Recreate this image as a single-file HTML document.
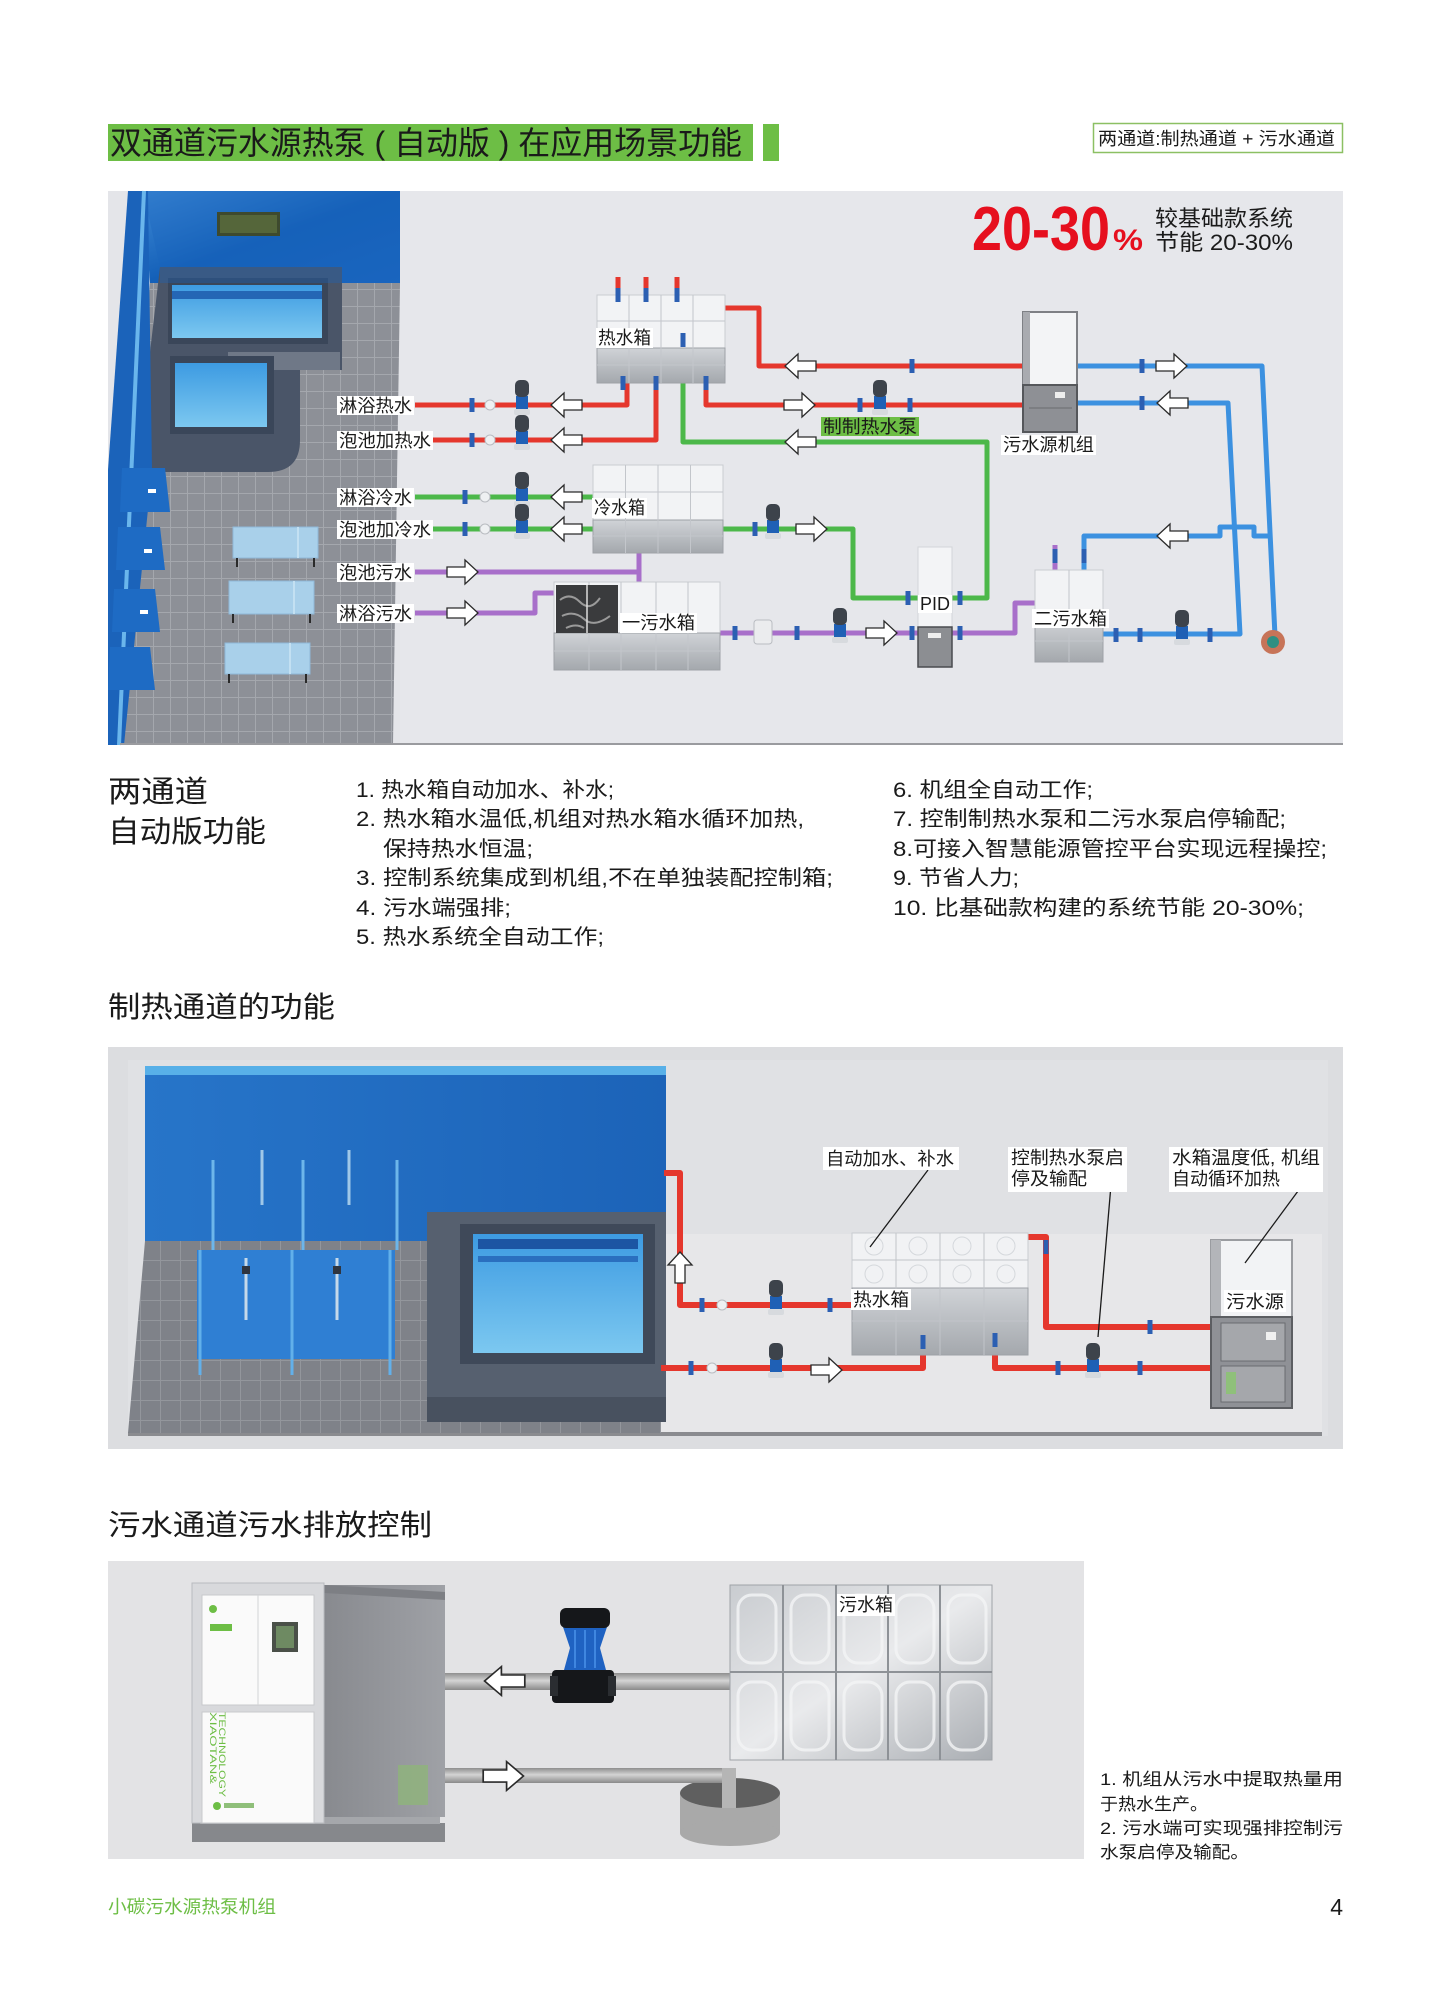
<!DOCTYPE html>
<html><head><meta charset="utf-8">
<style>
html,body{margin:0;padding:0;background:#fff;}
svg{display:block;}
text{font-family:"Liberation Sans","Noto Sans CJK SC",sans-serif;fill:#1a1a1a;}
</style></head><body>
<svg width="1440" height="1996" viewBox="0 0 1440 1996" xmlns="http://www.w3.org/2000/svg">
<defs>
 <g id="ar"><polygon points="-16,-5 2,-5 2,-12 15,0 2,12 2,5 -16,5" fill="#fff" stroke="#2a2a2a" stroke-width="1.3"/></g>
 <g id="pump"><rect x="-6" y="-9" width="12" height="15" fill="#1f60b5"/><rect x="-7" y="-25" width="14" height="17" rx="5" fill="#3d434b"/><rect x="-8" y="4" width="16" height="6" rx="2" fill="#d7dade"/></g>
 <g id="vl"><rect x="-2.5" y="-7" width="5" height="14" fill="#2c5fb2"/></g>
 <g id="ball"><circle r="5" fill="#eef0f2" stroke="#b9bcc1" stroke-width="1"/></g>
 <pattern id="tile" width="17" height="17" patternUnits="userSpaceOnUse"><rect width="17" height="17" fill="#8d9097"/><path d="M0 0.5H17M0.5 0V17" stroke="#a4a7ad" stroke-width="1"/></pattern>
 <pattern id="tile2" width="20" height="20" patternUnits="userSpaceOnUse"><rect width="20" height="20" fill="#7f8289"/><path d="M0 0.5H20M0.5 0V20" stroke="#93969c" stroke-width="1"/></pattern>
 <linearGradient id="wall" x1="0" y1="0" x2="1" y2="1"><stop offset="0" stop-color="#3f8ad6"/><stop offset="0.5" stop-color="#1460b8"/><stop offset="1" stop-color="#1a66c0"/></linearGradient>
 <linearGradient id="water" x1="0" y1="0" x2="0" y2="1"><stop offset="0" stop-color="#3d9be2"/><stop offset="1" stop-color="#7cc8f0"/></linearGradient>
 <linearGradient id="steel" x1="0" y1="0" x2="0" y2="1"><stop offset="0" stop-color="#d0d3d7"/><stop offset="1" stop-color="#a4a8ad"/></linearGradient>
 <linearGradient id="pipeg" x1="0" y1="0" x2="0" y2="1"><stop offset="0" stop-color="#8e8e8e"/><stop offset="0.45" stop-color="#d4d4d4"/><stop offset="1" stop-color="#8a8a8a"/></linearGradient>
 <linearGradient id="side" x1="0" y1="0" x2="1" y2="0"><stop offset="0" stop-color="#888a8f"/><stop offset="1" stop-color="#9fa1a6"/></linearGradient>
 <linearGradient id="ss" x1="0" y1="0" x2="1" y2="1"><stop offset="0" stop-color="#c9ccd0"/><stop offset="0.5" stop-color="#e9eaec"/><stop offset="1" stop-color="#a9adb2"/></linearGradient>
 <linearGradient id="wall2" x1="0" y1="0" x2="1" y2="0"><stop offset="0" stop-color="#2775c9"/><stop offset="1" stop-color="#1c63b8"/></linearGradient>
</defs>

<!-- ===== HEADER ===== -->
<rect x="108" y="124" width="645" height="37" fill="#6dbe45"/>
<rect x="763" y="124" width="16" height="37" fill="#6dbe45"/>
<text x="110" y="154" font-size="32" textLength="632" lengthAdjust="spacingAndGlyphs">双通道污水源热泵 ( 自动版 ) 在应用场景功能</text>
<rect x="1093.5" y="123.5" width="249" height="29" fill="#fff" stroke="#8cc063" stroke-width="1.5"/>
<text x="1098" y="145" font-size="18" textLength="237" lengthAdjust="spacingAndGlyphs">两通道:制热通道 + 污水通道</text>

<!-- ===== DIAGRAM 1 ===== -->
<rect x="108" y="191" width="1235" height="554" fill="#e4e5e9"/>
<rect x="400" y="191" width="943" height="554" fill="#e6e7eb"/>
<!-- floor -->
<polygon points="150,283 400,283 393,745 120,745" fill="url(#tile)"/>
<!-- back wall -->
<polygon points="143,191 400,191 400,283 150,283" fill="url(#wall)"/>
<!-- pools -->
<path d="M160 267 H342 V370 H300 V440 Q300 472 268 472 H150 V352 Z" fill="#4a5568"/>
<rect x="168" y="278" width="160" height="66" fill="#3a4659"/>
<rect x="172" y="285" width="150" height="53" fill="url(#water)"/>
<rect x="172" y="291" width="150" height="8" fill="#2466b5"/>
<rect x="228" y="352" width="112" height="18" fill="#6f7887"/>
<rect x="170" y="356" width="104" height="78" fill="#3a4659"/>
<rect x="175" y="363" width="92" height="64" fill="url(#water)"/>
<polygon points="143,191 400,191 400,283 160,283 160,267" fill="#1a64bd" opacity="0.35"/>
<!-- left wall -->
<polygon points="128,191 148,191 152,470 124,745 108,745 108,470" fill="#1b63ba"/>
<line x1="144" y1="191" x2="119" y2="745" stroke="#6ab6ec" stroke-width="4"/>
<!-- TV -->
<rect x="217" y="212" width="63" height="24" fill="#3e4a2e"/>
<rect x="220" y="215" width="57" height="18" fill="#55663a"/>
<!-- shower stalls -->
<polygon points="122,468 165,468 170,512 120,512" fill="#1e6bc4"/>
<polygon points="118,527 160,527 165,570 116,570" fill="#1e6bc4"/>
<polygon points="114,589 155,589 160,632 112,632" fill="#1e6bc4"/>
<polygon points="110,647 150,647 155,690 108,690" fill="#1e6bc4"/>
<rect x="148" y="489" width="8" height="4" fill="#fff"/><rect x="144" y="549" width="8" height="4" fill="#fff"/><rect x="140" y="610" width="8" height="4" fill="#fff"/>
<!-- lounge chairs -->
<rect x="233" y="527" width="85" height="31" fill="#a9d0ea" stroke="#8fb9d8"/>
<rect x="229" y="581" width="85" height="33" fill="#a9d0ea" stroke="#8fb9d8"/>
<rect x="225" y="643" width="85" height="31" fill="#a9d0ea" stroke="#8fb9d8"/>
<path d="M237 558v9M314 558v9M233 614v9M310 614v9M229 674v9M306 674v9" stroke="#2a2a2a" stroke-width="2"/>
<path d="M298 527v31M294 581v33M290 643v31" stroke="#c3e0f2" stroke-width="2"/>

<!-- red 20-30% -->
<text x="972" y="250" font-size="62" font-weight="bold" style="fill:#e60f1e" textLength="138" lengthAdjust="spacingAndGlyphs">20-30</text>
<text x="1113" y="250" font-size="30" font-weight="bold" style="fill:#e60f1e" textLength="30" lengthAdjust="spacingAndGlyphs">%</text>
<text x="1155" y="226" font-size="22" textLength="138" lengthAdjust="spacingAndGlyphs">较基础款系统</text>
<text x="1155" y="250" font-size="22" textLength="138" lengthAdjust="spacingAndGlyphs">节能 20-30%</text>

<!-- pipes -->
<g fill="none" stroke-linejoin="round" stroke-linecap="butt" stroke-width="5">
 <path d="M415 405H627V383" stroke="#e5372d"/>
 <path d="M432 440H656V383" stroke="#e5372d"/>
 <path d="M725 308H759V366H1023" stroke="#e5372d"/>
 <path d="M706 383V405H1023" stroke="#e5372d"/>
 <path d="M618 277V300M646 277V300M677 277V300" stroke="#e5372d"/>
 <path d="M683 340V442H987V598H952" stroke="#4cb84a"/>
 <path d="M415 497H593" stroke="#4cb84a"/>
 <path d="M432 529H593" stroke="#4cb84a"/>
 <path d="M723 529H853V598H918" stroke="#4cb84a"/>
 <path d="M415 572H639V540" stroke="#a86fca"/>
 <path d="M639 572V588" stroke="#a86fca"/>
 <path d="M415 613H535V593H556" stroke="#a86fca"/>
 <path d="M720 633H918" stroke="#a86fca"/>
 <path d="M952 633H1015V603H1042" stroke="#a86fca"/>
 <path d="M1055 545V575" stroke="#a86fca"/>
 <path d="M1077 366H1262L1275 636" stroke="#3c91e0"/>
 <path d="M1077 403H1228L1240 634H1103" stroke="#3c91e0"/>
 <path d="M1084 575V536H1220V527H1254V536H1270" stroke="#3c91e0"/>
</g>

<!-- tanks -->
<rect x="597" y="295" width="128" height="53" fill="#f2f3f5" stroke="#c9ccd1"/>
<rect x="597" y="348" width="128" height="35" fill="url(#steel)" stroke="#9ea2a7"/>
<path d="M629 295V383M661 295V383M693 295V383M597 321H725M597 365H725" stroke="#c3c6cb" stroke-width="1"/>
<rect x="593" y="465" width="130" height="55" fill="#f2f3f5" stroke="#c9ccd1"/>
<rect x="593" y="520" width="130" height="33" fill="url(#steel)" stroke="#9ea2a7"/>
<path d="M625.5 465V553M658 465V553M690.5 465V553M593 492H723M593 536H723" stroke="#c3c6cb" stroke-width="1"/>
<rect x="554" y="582" width="166" height="51" fill="#f2f3f5" stroke="#c9ccd1"/>
<rect x="554" y="633" width="166" height="37" fill="url(#steel)" stroke="#9ea2a7"/>
<path d="M589 582V670M621 582V670M656 582V670M688 582V670M554 651H720" stroke="#c3c6cb" stroke-width="1"/>
<rect x="556" y="585" width="62" height="48" fill="#3a3b3d"/>
<path d="M560 600q10 -8 20 2t20 -4M562 616q12 -6 22 3t26 -3M566 628q10 -5 18 0" stroke="#9a9a9a" stroke-width="2" fill="none"/>
<line x1="587" y1="585" x2="587" y2="633" stroke="#ddd" stroke-width="1.5"/>
<rect x="1035" y="570" width="68" height="50" fill="#f2f3f5" stroke="#c9ccd1"/>
<rect x="1035" y="620" width="68" height="42" fill="url(#steel)" stroke="#9ea2a7"/>
<path d="M1069 570V662M1035 641H1103" stroke="#c3c6cb" stroke-width="1"/>
<rect x="918" y="547" width="34" height="80" fill="#f3f4f6" stroke="#d3d5d9"/>
<rect x="918" y="627" width="34" height="40" fill="#8c8e92" stroke="#4a4c50" stroke-width="1.5"/>
<rect x="928" y="633" width="13" height="5" fill="#eee"/>
<rect x="1023" y="312" width="54" height="73" fill="#f3f4f6" stroke="#7e8085" stroke-width="2"/>
<rect x="1023" y="312" width="7" height="73" fill="#a9abb0"/>
<rect x="1023" y="385" width="54" height="47" fill="#8e9095" stroke="#55575b" stroke-width="2"/>
<path d="M1029 408H1072" stroke="#6a6c70"/>
<rect x="1055" y="392" width="10" height="6" fill="#eee"/>
<circle cx="1273" cy="642" r="12" fill="#c77458"/>
<circle cx="1273" cy="642" r="6" fill="#2f8f82"/>

<!-- valves/pumps/fittings -->
<use href="#vl" x="472" y="405"/><use href="#vl" x="472" y="440"/><use href="#vl" x="465" y="497"/><use href="#vl" x="465" y="529"/>
<use href="#ball" x="490" y="405"/><use href="#ball" x="490" y="440"/><use href="#ball" x="485" y="497"/><use href="#ball" x="485" y="529"/>
<use href="#pump" x="522" y="405"/><use href="#pump" x="522" y="440"/><use href="#pump" x="522" y="497"/><use href="#pump" x="522" y="529"/>
<use href="#vl" x="860" y="405"/><use href="#vl" x="910" y="405"/><use href="#pump" x="880" y="405"/>
<use href="#vl" x="912" y="366"/>
<use href="#vl" x="755" y="529"/><use href="#pump" x="773" y="529"/>
<use href="#vl" x="735" y="633"/><use href="#vl" x="912" y="633"/><use href="#vl" x="960" y="633"/><use href="#vl" x="908" y="598"/><use href="#vl" x="960" y="598"/>
<rect x="754" y="620" width="18" height="24" rx="3" fill="#ebecee" stroke="#b9bcc1"/>
<use href="#vl" x="797" y="633"/><use href="#pump" x="840" y="633"/>
<use href="#vl" x="1116" y="635"/><use href="#vl" x="1140" y="635"/><use href="#pump" x="1182" y="635"/><use href="#vl" x="1210" y="635"/>
<use href="#vl" x="1142" y="366"/><use href="#vl" x="1142" y="403"/>
<use href="#vl" x="618" y="295"/><use href="#vl" x="646" y="295"/><use href="#vl" x="677" y="295"/>
<use href="#vl" x="623" y="383"/><use href="#vl" x="656" y="383"/><use href="#vl" x="706" y="383"/><use href="#vl" x="683" y="340"/>
<use href="#vl" x="1055" y="556"/><use href="#vl" x="1084" y="556"/>

<!-- arrows -->
<use href="#ar" transform="translate(566,405) scale(-1,1)"/>
<use href="#ar" transform="translate(566,440) scale(-1,1)"/>
<use href="#ar" transform="translate(566,497) scale(-1,1)"/>
<use href="#ar" transform="translate(566,529) scale(-1,1)"/>
<use href="#ar" transform="translate(800,366) scale(-1,1)"/>
<use href="#ar" transform="translate(800,442) scale(-1,1)"/>
<use href="#ar" transform="translate(1172,403) scale(-1,1)"/>
<use href="#ar" transform="translate(1172,536) scale(-1,1)"/>
<use href="#ar" transform="translate(800,405)"/>
<use href="#ar" transform="translate(463,572)"/>
<use href="#ar" transform="translate(463,613)"/>
<use href="#ar" transform="translate(812,529)"/>
<use href="#ar" transform="translate(882,633)"/>
<use href="#ar" transform="translate(1172,366)"/>

<!-- labels d1 -->
<g fill="#fff">
<rect x="337" y="396" width="77" height="19"/><rect x="337" y="431" width="96" height="19"/>
<rect x="337" y="488" width="77" height="19"/><rect x="337" y="520" width="96" height="19"/>
<rect x="337" y="563" width="77" height="19"/><rect x="337" y="604" width="77" height="19"/>
<rect x="596" y="328" width="57" height="20"/><rect x="592" y="498" width="55" height="20"/>
<rect x="620" y="613" width="77" height="20"/><rect x="918" y="595" width="34" height="18"/>
<rect x="1032" y="609" width="77" height="19"/><rect x="1001" y="435" width="95" height="20"/>
</g>
<rect x="821" y="417" width="98" height="19" fill="#6dbe45"/>
<g font-size="18">
<text x="339" y="412" textLength="73" lengthAdjust="spacingAndGlyphs">淋浴热水</text>
<text x="339" y="447" textLength="92" lengthAdjust="spacingAndGlyphs">泡池加热水</text>
<text x="339" y="504" textLength="73" lengthAdjust="spacingAndGlyphs">淋浴冷水</text>
<text x="339" y="536" textLength="92" lengthAdjust="spacingAndGlyphs">泡池加冷水</text>
<text x="339" y="579" textLength="73" lengthAdjust="spacingAndGlyphs">泡池污水</text>
<text x="339" y="620" textLength="73" lengthAdjust="spacingAndGlyphs">淋浴污水</text>
<text x="598" y="344" textLength="53" lengthAdjust="spacingAndGlyphs">热水箱</text>
<text x="594" y="514" textLength="51" lengthAdjust="spacingAndGlyphs">冷水箱</text>
<text x="622" y="629" textLength="73" lengthAdjust="spacingAndGlyphs">一污水箱</text>
<text x="920" y="610" textLength="30" lengthAdjust="spacingAndGlyphs">PID</text>
<text x="1034" y="625" textLength="73" lengthAdjust="spacingAndGlyphs">二污水箱</text>
<text x="1003" y="451" textLength="91" lengthAdjust="spacingAndGlyphs">污水源机组</text>
<text x="823" y="433" textLength="94" lengthAdjust="spacingAndGlyphs">制制热水泵</text>
</g>
<rect x="120" y="743" width="1223" height="2" fill="#9a9b9f"/>

<!-- ===== TEXT BLOCK ===== -->
<text x="108" y="802" font-size="30" textLength="100" lengthAdjust="spacingAndGlyphs">两通道</text>
<text x="108" y="842" font-size="30" textLength="158" lengthAdjust="spacingAndGlyphs">自动版功能</text>
<g font-size="21">
<text x="356" y="797" textLength="258" lengthAdjust="spacingAndGlyphs">1. 热水箱自动加水、补水;</text>
<text x="356" y="826" textLength="448" lengthAdjust="spacingAndGlyphs">2. 热水箱水温低,机组对热水箱水循环加热,</text>
<text x="383" y="856" textLength="150" lengthAdjust="spacingAndGlyphs">保持热水恒温;</text>
<text x="356" y="885" textLength="477" lengthAdjust="spacingAndGlyphs">3. 控制系统集成到机组,不在单独装配控制箱;</text>
<text x="356" y="915" textLength="155" lengthAdjust="spacingAndGlyphs">4. 污水端强排;</text>
<text x="356" y="944" textLength="248" lengthAdjust="spacingAndGlyphs">5. 热水系统全自动工作;</text>
<text x="893" y="797" textLength="200" lengthAdjust="spacingAndGlyphs">6. 机组全自动工作;</text>
<text x="893" y="826" textLength="393" lengthAdjust="spacingAndGlyphs">7. 控制制热水泵和二污水泵启停输配;</text>
<text x="893" y="856" textLength="434" lengthAdjust="spacingAndGlyphs">8.可接入智慧能源管控平台实现远程操控;</text>
<text x="893" y="885" textLength="126" lengthAdjust="spacingAndGlyphs">9. 节省人力;</text>
<text x="893" y="915" textLength="411" lengthAdjust="spacingAndGlyphs">10. 比基础款构建的系统节能 20-30%;</text>
</g>
<text x="108" y="1017" font-size="29" textLength="227" lengthAdjust="spacingAndGlyphs">制热通道的功能</text>

<!-- ===== DIAGRAM 2 ===== -->
<rect x="108" y="1047" width="1235" height="402" fill="#dcdde0"/>
<rect x="128" y="1060" width="1200" height="376" fill="#e0e1e4"/>
<rect x="661" y="1234" width="661" height="200" fill="#e7e7e9"/>
<rect x="128" y="1432" width="1194" height="4" fill="#8a8b8f"/>
<rect x="145" y="1066" width="521" height="175" fill="url(#wall2)"/>
<rect x="145" y="1066" width="521" height="9" fill="#58b0e8"/>
<polygon points="145,1241 661,1241 661,1433 128,1433" fill="url(#tile2)"/>
<path d="M213 1160V1250M303 1160V1250M397 1160V1250" stroke="#6db6ea" stroke-width="3"/>
<path d="M262 1150V1205M349 1150V1205" stroke="#9fc8e8" stroke-width="3"/>
<rect x="197" y="1250" width="198" height="109" fill="#2f7fd3"/>
<path d="M200 1250V1375M292 1250V1375M390 1250V1375" stroke="#62b0ea" stroke-width="3"/>
<path d="M246 1258V1320M337 1258V1320" stroke="#c5d9ea" stroke-width="3"/>
<rect x="242" y="1266" width="8" height="8" fill="#2e3540"/><rect x="333" y="1266" width="8" height="8" fill="#2e3540"/>
<!-- pool -->
<rect x="427" y="1395" width="239" height="27" fill="#48515f"/>
<rect x="427" y="1212" width="239" height="185" fill="#56606f"/>
<rect x="460" y="1224" width="195" height="140" fill="#3f4959"/>
<rect x="473" y="1234" width="170" height="119" fill="url(#water)"/>
<rect x="478" y="1239" width="160" height="10" fill="#1c55a3"/>
<rect x="478" y="1256" width="160" height="6" fill="#2a6fbf"/>
<g fill="none" stroke="#e5372d" stroke-width="6" stroke-linejoin="round">
 <path d="M664 1173H680V1305H852"/>
 <path d="M661 1368H923V1340"/>
 <path d="M997 1252V1237H1046V1327H1211"/>
 <path d="M995 1338V1368H1211"/>
</g>
<rect x="852" y="1233" width="176" height="55" fill="#f1f2f4" stroke="#c9ccd1"/>
<rect x="852" y="1288" width="176" height="67" fill="url(#steel)" stroke="#9ea2a7"/>
<path d="M896 1233V1355M940 1233V1355M984 1233V1355M852 1260H1028M852 1321H1028" stroke="#c1c4c9" stroke-width="1"/>
<g fill="none" stroke="#d5d8dc"><circle cx="874" cy="1246" r="9"/><circle cx="918" cy="1246" r="9"/><circle cx="962" cy="1246" r="9"/><circle cx="1006" cy="1246" r="9"/><circle cx="874" cy="1274" r="9"/><circle cx="918" cy="1274" r="9"/><circle cx="962" cy="1274" r="9"/><circle cx="1006" cy="1274" r="9"/></g>
<rect x="1211" y="1240" width="81" height="77" fill="#f2f3f5" stroke="#9a9ca0" stroke-width="2"/>
<rect x="1211" y="1240" width="10" height="167" fill="#b3b5b9"/>
<rect x="1211" y="1317" width="81" height="91" fill="#8f9196" stroke="#5c5e62" stroke-width="2"/>
<rect x="1221" y="1323" width="64" height="38" fill="#a5a7ab" stroke="#6a6c70"/>
<rect x="1221" y="1366" width="64" height="36" fill="#a5a7ab" stroke="#6a6c70"/>
<rect x="1266" y="1332" width="10" height="8" fill="#f0f0f0"/>
<rect x="1226" y="1372" width="10" height="22" fill="#8fc07a"/>
<use href="#vl" x="702" y="1305"/><use href="#vl" x="830" y="1305"/><use href="#ball" x="722" y="1305"/>
<use href="#pump" x="776" y="1305"/>
<use href="#vl" x="691" y="1368"/><use href="#ball" x="712" y="1368"/>
<use href="#pump" x="776" y="1368"/>
<use href="#vl" x="1046" y="1247"/><use href="#vl" x="1150" y="1327"/>
<use href="#vl" x="1058" y="1368"/><use href="#vl" x="1140" y="1368"/>
<use href="#pump" x="1093" y="1368"/>
<use href="#vl" x="923" y="1342"/><use href="#vl" x="995" y="1340"/>
<use href="#ar" transform="translate(680,1267) rotate(-90)"/>
<use href="#ar" transform="translate(827,1370)"/>
<g stroke="#1a1a1a" stroke-width="1.3"><line x1="928" y1="1170" x2="870" y2="1247"/><line x1="1111" y1="1185" x2="1098" y2="1337"/><line x1="1301" y1="1187" x2="1245" y2="1263"/></g>
<g fill="#fff"><rect x="823" y="1147" width="136" height="23"/><rect x="1008" y="1147" width="119" height="45"/><rect x="1169" y="1147" width="154" height="45"/>
<rect x="851" y="1289" width="60" height="21"/><rect x="1224" y="1290" width="62" height="22"/></g>
<g font-size="18">
<text x="826" y="1165" textLength="128" lengthAdjust="spacingAndGlyphs">自动加水、补水</text>
<text x="1011" y="1164" textLength="113" lengthAdjust="spacingAndGlyphs">控制热水泵启</text>
<text x="1011" y="1185" textLength="76" lengthAdjust="spacingAndGlyphs">停及输配</text>
<text x="1172" y="1164" textLength="148" lengthAdjust="spacingAndGlyphs">水箱温度低, 机组</text>
<text x="1172" y="1185" textLength="108" lengthAdjust="spacingAndGlyphs">自动循环加热</text>
<text x="853" y="1306" textLength="56" lengthAdjust="spacingAndGlyphs">热水箱</text>
<text x="1226" y="1308" textLength="58" lengthAdjust="spacingAndGlyphs">污水源</text>
</g>

<text x="108" y="1535" font-size="29" textLength="324" lengthAdjust="spacingAndGlyphs">污水通道污水排放控制</text>

<!-- ===== DIAGRAM 3 ===== -->
<rect x="108" y="1561" width="976" height="298" fill="#e3e3e5"/>
<rect x="192" y="1823" width="253" height="19" fill="#86888c"/>
<rect x="200" y="1816" width="240" height="8" fill="#a5a7ab"/>
<rect x="324" y="1585" width="121" height="232" fill="url(#side)"/>
<polygon points="324,1585 445,1592 445,1600 324,1593" fill="#7d7f84"/>
<rect x="192" y="1583" width="132" height="240" fill="#d8d9dc" stroke="#b9bbbf"/>
<rect x="202" y="1595" width="112" height="110" fill="#fafafa" stroke="#c8c9cc"/>
<rect x="202" y="1712" width="112" height="111" fill="#fafafa" stroke="#c8c9cc"/>
<line x1="258" y1="1595" x2="258" y2="1705" stroke="#d3d4d7"/>
<rect x="272" y="1622" width="26" height="30" fill="#4a5048"/>
<rect x="276" y="1626" width="18" height="22" fill="#6e8a62"/>
<circle cx="213" cy="1609" r="4" fill="#6dbe45"/>
<rect x="210" y="1624" width="22" height="7" fill="#6dbe45"/>
<circle cx="217" cy="1806" r="4" fill="#6dbe45"/>
<rect x="224" y="1803" width="30" height="5" fill="#8fbf7a"/>
<rect x="398" y="1765" width="30" height="40" fill="#8fb47a" opacity="0.8"/>
<text transform="translate(210,1712) rotate(90)" font-size="9" style="fill:#6dbe45" textLength="72" lengthAdjust="spacingAndGlyphs">XIAOTAN&amp;</text>
<text transform="translate(219,1712) rotate(90)" font-size="9" style="fill:#6dbe45" textLength="85" lengthAdjust="spacingAndGlyphs">TECHNOLOGY</text>
<rect x="445" y="1673" width="288" height="17" fill="url(#pipeg)"/>
<rect x="552" y="1670" width="62" height="33" rx="4" fill="#15171a"/>
<rect x="550" y="1676" width="8" height="20" fill="#2a2d31"/><rect x="608" y="1676" width="8" height="20" fill="#2a2d31"/>
<path d="M563 1627H607L600 1648L606 1670H564L570 1648Z" fill="#1f62c2"/>
<path d="M575 1630V1668M585 1630V1668M595 1630V1668" stroke="#3f86e0" stroke-width="2"/>
<rect x="560" y="1608" width="50" height="20" rx="6" fill="#15171a"/>
<use href="#ar" transform="translate(504,1681) scale(-1.3,1.2)"/>
<rect x="730" y="1585" width="262" height="175" fill="url(#ss)" stroke="#9fa3a8"/>
<path d="M783 1585V1760M836 1585V1760M888 1585V1760M940 1585V1760M730 1672H992" stroke="#8e9297" stroke-width="2"/>
<g fill="none" stroke="#f4f5f6" stroke-width="3" opacity="0.8">
<rect x="738" y="1595" width="38" height="68" rx="14"/><rect x="791" y="1595" width="38" height="68" rx="14"/><rect x="844" y="1595" width="38" height="68" rx="14"/><rect x="896" y="1595" width="38" height="68" rx="14"/><rect x="948" y="1595" width="38" height="68" rx="14"/>
<rect x="738" y="1682" width="38" height="68" rx="14"/><rect x="791" y="1682" width="38" height="68" rx="14"/><rect x="844" y="1682" width="38" height="68" rx="14"/><rect x="896" y="1682" width="38" height="68" rx="14"/><rect x="948" y="1682" width="38" height="68" rx="14"/>
</g>
<rect x="837" y="1594" width="58" height="22" fill="#fff"/>
<text x="839" y="1611" font-size="18" textLength="54" lengthAdjust="spacingAndGlyphs">污水箱</text>
<rect x="680" y="1793" width="100" height="40" fill="#a9a9a9"/>
<ellipse cx="730" cy="1833" rx="50" ry="13" fill="#a9a9a9"/>
<ellipse cx="730" cy="1793" rx="50" ry="15" fill="#5f5f5f"/>
<rect x="445" y="1768" width="291" height="15" fill="url(#pipeg)"/>
<rect x="722" y="1768" width="14" height="40" fill="#b5b5b5"/>
<use href="#ar" transform="translate(504,1776) scale(1.3,1.2)"/>

<g font-size="17">
<text x="1100" y="1785" textLength="243" lengthAdjust="spacingAndGlyphs">1. 机组从污水中提取热量用</text>
<text x="1100" y="1810" textLength="108" lengthAdjust="spacingAndGlyphs">于热水生产。</text>
<text x="1100" y="1834" textLength="243" lengthAdjust="spacingAndGlyphs">2. 污水端可实现强排控制污</text>
<text x="1100" y="1858" textLength="149" lengthAdjust="spacingAndGlyphs">水泵启停及输配。</text>
</g>

<text x="108" y="1913" font-size="18" style="fill:#6dbe45" textLength="168" lengthAdjust="spacingAndGlyphs">小碳污水源热泵机组</text>
<text x="1343" y="1915" font-size="23" text-anchor="end">4</text>
</svg>
</body></html>
